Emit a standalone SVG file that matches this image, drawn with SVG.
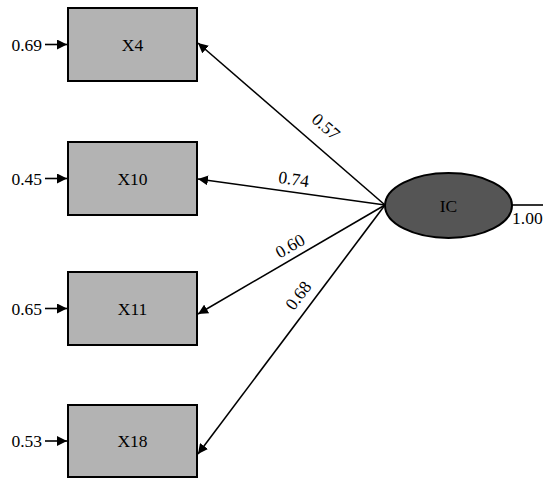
<svg xmlns="http://www.w3.org/2000/svg" width="543" height="478" viewBox="0 0 543 478" font-family="'Liberation Serif', 'Times New Roman', serif">
<style>
.box{fill:#b3b3b3;stroke:#000;stroke-width:2}
.lat{fill:#555;stroke:#000;stroke-width:2}
text{font-family:'Liberation Serif','Times New Roman',serif;font-size:17.5px;fill:#000}
.c{text-anchor:middle}
.r{text-anchor:end}
.ln{stroke:#000;stroke-width:1.6;fill:none}
</style>
<defs>
<marker id="ah" viewBox="0 0 10 10" refX="10" refY="5" markerWidth="10" markerHeight="10" markerUnits="userSpaceOnUse" orient="auto">
<path d="M0,0 L10,5 L0,10 z" fill="#000"/>
</marker>
</defs>
<g id="connectors">
<line class="ln" x1="45" y1="44.5" x2="67" y2="44.5" marker-end="url(#ah)"/>
<line class="ln" x1="45" y1="178.5" x2="67" y2="178.5" marker-end="url(#ah)"/>
<line class="ln" x1="45" y1="308.5" x2="67" y2="308.5" marker-end="url(#ah)"/>
<line class="ln" x1="45" y1="441" x2="67" y2="441" marker-end="url(#ah)"/>
<line class="ln" x1="385" y1="205" x2="198" y2="43" marker-end="url(#ah)"/>
<line class="ln" x1="385" y1="205" x2="198" y2="179" marker-end="url(#ah)"/>
<line class="ln" x1="385" y1="205" x2="198" y2="314" marker-end="url(#ah)"/>
<line class="ln" x1="385" y1="205" x2="198" y2="454" marker-end="url(#ah)"/>
<line class="ln" x1="512" y1="205" x2="543" y2="205"/>
<text class="c" transform="translate(322,131) rotate(41)">0.57</text>
<text class="c" transform="translate(293,185) rotate(8)">0.74</text>
<text class="c" transform="translate(293,251) rotate(-30)">0.60</text>
<text class="c" transform="translate(303,299) rotate(-53)">0.68</text>
<text x="512" y="224">1.00</text>
</g>
<g id="X4">
<rect class="box" x="68" y="8" width="129" height="73"/>
<text class="c" x="132.5" y="51">X4</text>
<text class="r" x="42" y="51">0.69</text>
</g>
<g id="X10">
<rect class="box" x="68" y="142" width="129" height="73"/>
<text class="c" x="132.5" y="185">X10</text>
<text class="r" x="42" y="185">0.45</text>
</g>
<g id="X11">
<rect class="box" x="68" y="272" width="129" height="73"/>
<text class="c" x="132.5" y="315">X11</text>
<text class="r" x="42" y="315">0.65</text>
</g>
<g id="X18">
<rect class="box" x="68" y="405" width="129" height="72"/>
<text class="c" x="132.5" y="447">X18</text>
<text class="r" x="42" y="447">0.53</text>
</g>
<g id="IC">
<ellipse class="lat" cx="448.5" cy="205.5" rx="63.5" ry="32.5"/>
<text class="c" x="448.5" y="212">IC</text>
</g>
</svg>
